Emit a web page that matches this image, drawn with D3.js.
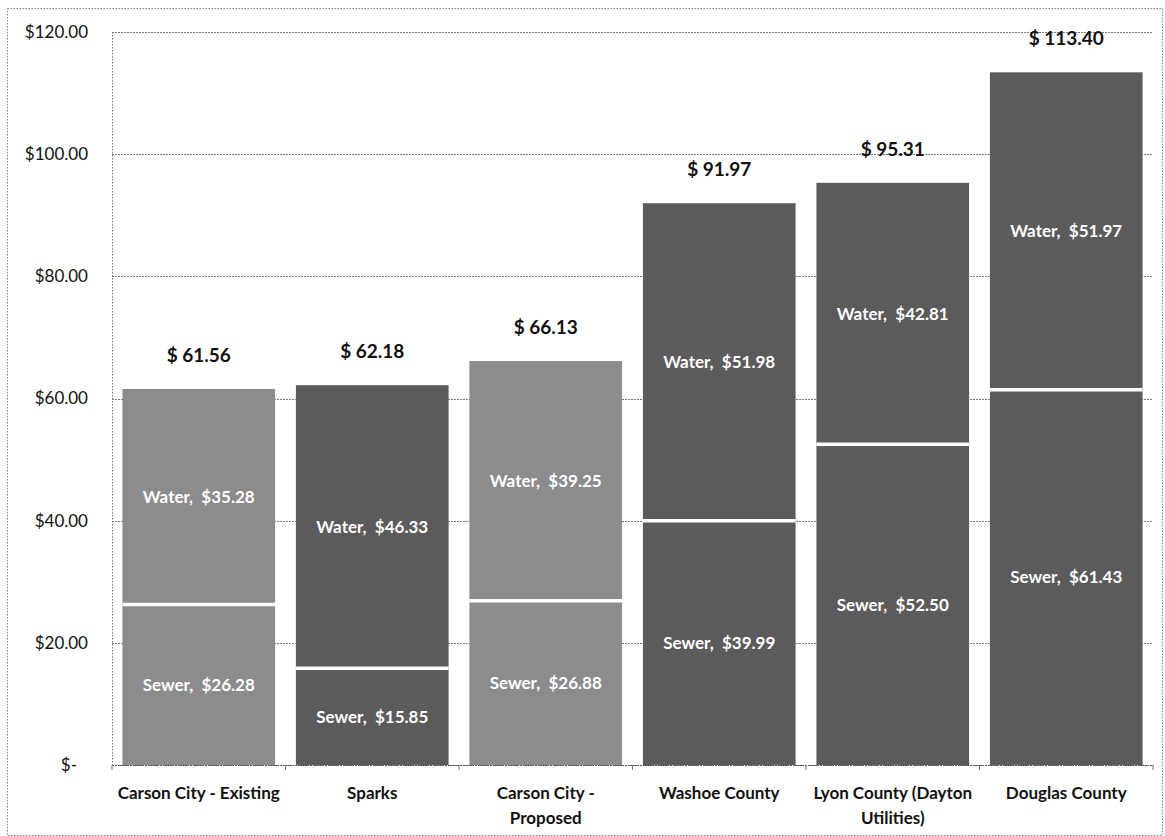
<!DOCTYPE html>
<meta charset="utf-8">
<style>
body { margin: 0; background: #fff; }
svg text { font-family: Lato, "Liberation Sans", sans-serif; }
.grid line { stroke: #7a7a7a; stroke-dasharray: 1.5,1.5; shape-rendering: crispEdges; }
.grid path { display: none; }
.y.axis path, .y.axis line { display: none; }
.y.axis text { font-size: 17px; fill: #111; }
.x.axis path { stroke: #555; stroke-dasharray: 1.5,1; shape-rendering: crispEdges; }
.x.axis line { stroke: #777; }
.x.axis text { font-size: 17px; font-weight: bold; fill: #111; }
.seg-label { fill: #fff; font-size: 17px; font-weight: bold; }
.total-label { fill: #111; font-size: 19px; font-weight: bold; }
</style>
<body>
<script src="https://d3js.org/d3.v7.min.js"></script>
<script>

var categories = ["Carson City - Existing", "Sparks", "Carson City - Proposed",
                  "Washoe County", "Lyon County (Dayton Utilities)", "Douglas County"];
var tickLabels = [["Carson City - Existing"], ["Sparks"], ["Carson City -", "Proposed"],
                  ["Washoe County"], ["Lyon County (Dayton", "Utilities)"], ["Douglas County"]];
var sewer = [26.28, 15.85, 26.88, 39.99, 52.50, 61.43];
var water = [35.28, 46.33, 39.25, 51.98, 42.81, 51.97];
var totals = [61.56, 62.18, 66.13, 91.97, 95.31, 113.40];
var carsonCity = [true, false, true, false, false, false];
var yTicks = [0, 20, 40, 60, 80, 100, 120];

var width = 1165,
    height = 836,
    margin = {top: 32, right: 12, bottom: 71, left: 112};

var svg = d3.select("body").append("svg")
    .attr("width", width)
    .attr("height", height);

// outer frame
svg.append("rect")
    .attr("x", 7.5).attr("y", 8.5)
    .attr("width", width - 10).attr("height", height - 9)
    .attr("fill", "none")
    .attr("stroke", "#888")
    .attr("stroke-dasharray", "1.5,1.5");

var g = svg.append("g")
    .attr("transform", "translate(" + margin.left + "," + margin.top + ")");

var w = width - margin.left - margin.right,
    h = height - margin.top - margin.bottom;

var x = d3.scaleBand()
    .domain(categories)
    .range([0, w])
    .paddingInner(0.12)
    .paddingOuter(0.06);

var y = d3.scaleLinear()
    .domain([0, 120])
    .range([h, 0]);

// gridlines
g.append("g")
    .attr("class", "grid")
    .call(d3.axisLeft(y).tickValues(yTicks).tickSize(-w).tickFormat(""));

// left axis line (dotted)
g.append("line")
    .attr("x1", 0.5).attr("x2", 0.5)
    .attr("y1", 0).attr("y2", h)
    .attr("stroke", "#7a7a7a")
    .attr("stroke-dasharray", "1.5,1.5");

g.append("g")
    .attr("class", "y axis")
    .call(d3.axisLeft(y).tickValues(yTicks).tickSize(0).tickPadding(24)
      .tickFormat(function(d) { return d === 0 ? "$-" : "$" + d3.format(".2f")(d); }))
    .selectAll("text")
      .attr("dx", function(d) { return d === 0 ? -11 : 0; });

var fill = function(i) {
  return carsonCity[i] ? "#8c8c8c" : "#5b5b5b";
};

var rows = categories.map(function(c, i) {
  return {cat: c, i: i, sewer: sewer[i], water: water[i], total: totals[i]};
});

var bars = g.selectAll(".bar")
    .data(rows)
  .enter().append("g")
    .attr("class", "bar");

// sewer segment
bars.append("rect")
    .attr("x", function(d) { return x(d.cat); })
    .attr("width", x.bandwidth())
    .attr("y", function(d) { return y(d.sewer); })
    .attr("height", function(d) { return y(0) - y(d.sewer); })
    .attr("fill", function(d) { return fill(d.i); });

// water segment
bars.append("rect")
    .attr("x", function(d) { return x(d.cat); })
    .attr("width", x.bandwidth())
    .attr("y", function(d) { return y(d.sewer + d.water); })
    .attr("height", function(d) { return y(d.sewer) - y(d.sewer + d.water); })
    .attr("fill", function(d) { return fill(d.i); });

// white separator between segments
bars.append("line")
    .attr("x1", function(d) { return x(d.cat); })
    .attr("x2", function(d) { return x(d.cat) + x.bandwidth(); })
    .attr("y1", function(d) { return y(d.sewer); })
    .attr("y2", function(d) { return y(d.sewer); })
    .attr("stroke", "#fff")
    .attr("stroke-width", 3.5);

var money = d3.format(".2f");

bars.append("text")
    .attr("class", "seg-label")
    .attr("text-anchor", "middle")
    .attr("dy", "0.35em")
    .attr("x", function(d) { return x(d.cat) + x.bandwidth() / 2; })
    .attr("y", function(d) { return y(d.sewer / 2); })
    .text(function(d) { return "Sewer,\u00a0 $" + money(d.sewer); });

bars.append("text")
    .attr("class", "seg-label")
    .attr("text-anchor", "middle")
    .attr("dy", "0.35em")
    .attr("x", function(d) { return x(d.cat) + x.bandwidth() / 2; })
    .attr("y", function(d) { return y(d.sewer + d.water / 2); })
    .text(function(d) { return "Water,\u00a0 $" + money(d.water); });

bars.append("text")
    .attr("class", "total-label")
    .attr("text-anchor", "middle")
    .attr("x", function(d) { return x(d.cat) + x.bandwidth() / 2; })
    .attr("y", function(d) { return y(d.total) - 27; })
    .text(function(d) { return "$ " + money(d.total); });

// x axis
var xAxis = g.append("g")
    .attr("class", "x axis")
    .attr("transform", "translate(0," + h + ")")
    .call(d3.axisBottom(x).tickSize(0).tickPadding(0).tickFormat(""));

// small tick marks at band boundaries
xAxis.selectAll(".bound")
    .data(d3.range(categories.length + 1))
  .enter().append("line")
    .attr("class", "bound")
    .attr("x1", function(i) { return i * x.step(); })
    .attr("x2", function(i) { return i * x.step(); })
    .attr("y1", 0).attr("y2", 5);

xAxis.selectAll(".tick").each(function(d, i) {
  var t = d3.select(this).select("text")
      .attr("y", 34)
      .attr("dy", 0);
  t.text(null);
  tickLabels[i].forEach(function(line, k) {
    t.append("tspan")
        .attr("x", 0)
        .attr("dy", k === 0 ? 0 : "1.45em")
        .text(line);
  });
});

</script>
